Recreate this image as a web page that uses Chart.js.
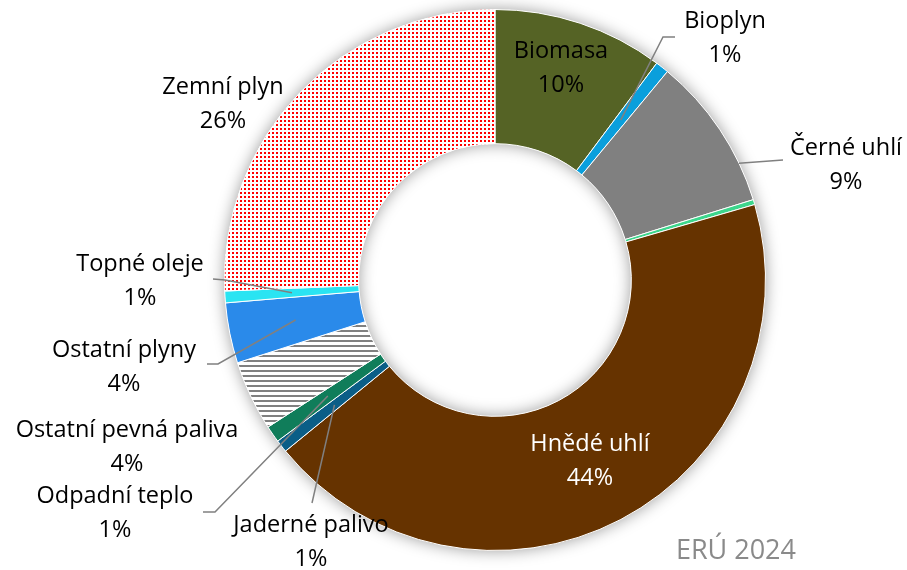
<!DOCTYPE html>
<html>
<head>
<meta charset="utf-8">
<script src="https://cdn.jsdelivr.net/npm/chart.js@4/dist/chart.umd.min.js"></script>
<style>
  html, body { margin: 0; padding: 0; background: #ffffff; }
  #wrap { width: 907px; height: 570px; }
</style>
</head>
<body>
<div id="wrap"><canvas id="c" width="907" height="570"></canvas></div>
<script>
// ---- Data ----
const categories = ['Biomasa', 'Bioplyn', 'Černé uhlí', 'Ostatní OZE', 'Hnědé uhlí', 'Jaderné palivo',
                    'Odpadní teplo', 'Ostatní pevná paliva', 'Ostatní plyny', 'Topné oleje', 'Zemní plyn'];
const shares = [10.2, 0.8, 9.2, 0.3, 43.6, 0.75, 1.0, 4.2, 3.6, 0.7, 25.65];
const sourceNote = 'ERÚ 2024';

// ---- Styles ----
function makeStripes() {
  const c = document.createElement('canvas'); c.width = 5; c.height = 5;
  const g = c.getContext('2d');
  g.fillStyle = '#ffffff'; g.fillRect(0, 0, 5, 5);
  g.fillStyle = '#808080'; g.fillRect(0, 0, 5, 2);
  return g.createPattern(c, 'repeat');
}
function makeDots() {
  const c = document.createElement('canvas'); c.width = 4; c.height = 4;
  const g = c.getContext('2d');
  g.fillStyle = '#ffffff'; g.fillRect(0, 0, 4, 4);
  g.fillStyle = '#ff0000'; g.fillRect(0, 0, 2, 2);
  return g.createPattern(c, 'repeat');
}
const colors = ['#556325', '#0a9fdc', '#808080', '#3dd68c', '#663300', '#0b5e87',
                '#107d5a', makeStripes(), '#2a8aea', '#2ae4f2', makeDots()];

// label layout: text centre offsets (relative to the chart centre), colour, leader-line config
const labelLayout = {
  'Biomasa':              { dx: 66,  dy: -212, color: '#000' },
  'Bioplyn':              { dx: 230, dy: -242, color: '#000', leader: { pts: [[180, -243], [168, -243]], t: 0.5, r: 'mid' } },
  'Černé uhlí':           { dx: 351, dy: -115, color: '#000', leader: { pts: [[288, -120]], t: 0.75, r: 'outer' } },
  'Hnědé uhlí':           { dx: 95,  dy: 181,  color: '#fff' },
  'Jaderné palivo':       { dx: -184, dy: 262, color: '#000', leader: { pts: [[-183, 223]], t: 0.5, r: 'mid' } },
  'Odpadní teplo':        { dx: -380, dy: 233, color: '#000', leader: { pts: [[-292, 232], [-280, 232]], t: 0.5, r: 'mid' } },
  'Ostatní pevná paliva': { dx: -368, dy: 167, color: '#000' },
  'Ostatní plyny':        { dx: -371, dy: 87,  color: '#000', leader: { pts: [[-288, 84], [-277, 84]], t: 0.5, r: 'mid' } },
  'Topné oleje':          { dx: -355, dy: 1,   color: '#000', leader: { pts: [[-282, -1], [-270, 0]], t: 0.5, r: 'mid' } },
  'Zemní plyn':           { dx: -272, dy: -176, color: '#000' }
};
const FONT = '23.5px "Open Sans", sans-serif';
const LINE_GAP = 34;

const ringShadow = {
  id: 'ringShadow',
  beforeDatasetsDraw(chart) {
    const arc = chart.getDatasetMeta(0).data[0];
    if (!arc) return;
    const { x, y, outerRadius, innerRadius } = arc;
    const ctx = chart.ctx;
    ctx.save();
    ctx.shadowColor = 'rgba(0,0,0,0.4)';
    ctx.shadowBlur = 16;
    ctx.fillStyle = '#ffffff';
    ctx.beginPath();
    ctx.arc(x, y, outerRadius, 0, Math.PI * 2);
    ctx.arc(x, y, innerRadius, Math.PI * 2, 0, true);
    ctx.closePath();
    ctx.fill();
    ctx.restore();
  }
};

const labelsPlugin = {
  id: 'labelsPlugin',
  afterDatasetsDraw(chart) {
    const ctx = chart.ctx;
    const meta = chart.getDatasetMeta(0);
    const total = shares.reduce((a, b) => a + b, 0);
    const c0 = meta.data[0];
    const cx = c0.x, cy = c0.y;
    ctx.save();
    categories.forEach((name, i) => {
      const L = labelLayout[name];
      if (!L) return;
      const arc = meta.data[i];
      if (L.leader) {
        const a = arc.startAngle + (arc.endAngle - arc.startAngle) * L.leader.t;
        const r = L.leader.r === 'outer' ? arc.outerRadius : (arc.outerRadius + arc.innerRadius) / 2;
        const tx = cx + Math.cos(a) * r, ty = cy + Math.sin(a) * r;
        ctx.strokeStyle = '#808080';
        ctx.lineWidth = 1.5;
        ctx.beginPath();
        L.leader.pts.forEach((p, k) => {
          if (k === 0) ctx.moveTo(cx + p[0], cy + p[1]); else ctx.lineTo(cx + p[0], cy + p[1]);
        });
        ctx.lineTo(tx, ty);
        ctx.stroke();
      }
      const pct = Math.round(shares[i] / total * 100) + '%';
      ctx.font = FONT;
      ctx.fillStyle = L.color;
      ctx.textAlign = 'center';
      ctx.textBaseline = 'middle';
      ctx.fillText(name, cx + L.dx, cy + L.dy - LINE_GAP / 2);
      ctx.fillText(pct, cx + L.dx, cy + L.dy + LINE_GAP / 2);
    });
    // source note
    ctx.font = '27px "Open Sans", sans-serif';
    ctx.fillStyle = '#8a8a8a';
    ctx.textAlign = 'right';
    ctx.textBaseline = 'middle';
    ctx.fillText(sourceNote, chart.width - 111, 551);
    ctx.restore();
  }
};

new Chart(document.getElementById('c'), {
  type: 'doughnut',
  data: {
    labels: categories,
    datasets: [{
      data: shares,
      backgroundColor: colors,
      borderColor: '#ffffff',
      borderWidth: 1,
      hoverOffset: 0
    }]
  },
  options: {
    responsive: false,
    animation: false,
    cutout: '50.4%',
    rotation: 0,
    layout: { padding: { left: 224, right: 141, top: 9, bottom: 19 } },
    plugins: {
      legend: { display: false },
      tooltip: { enabled: false },
      title: { display: false }
    }
  },
  plugins: [ringShadow, labelsPlugin]
});
</script>
</body>
</html>
